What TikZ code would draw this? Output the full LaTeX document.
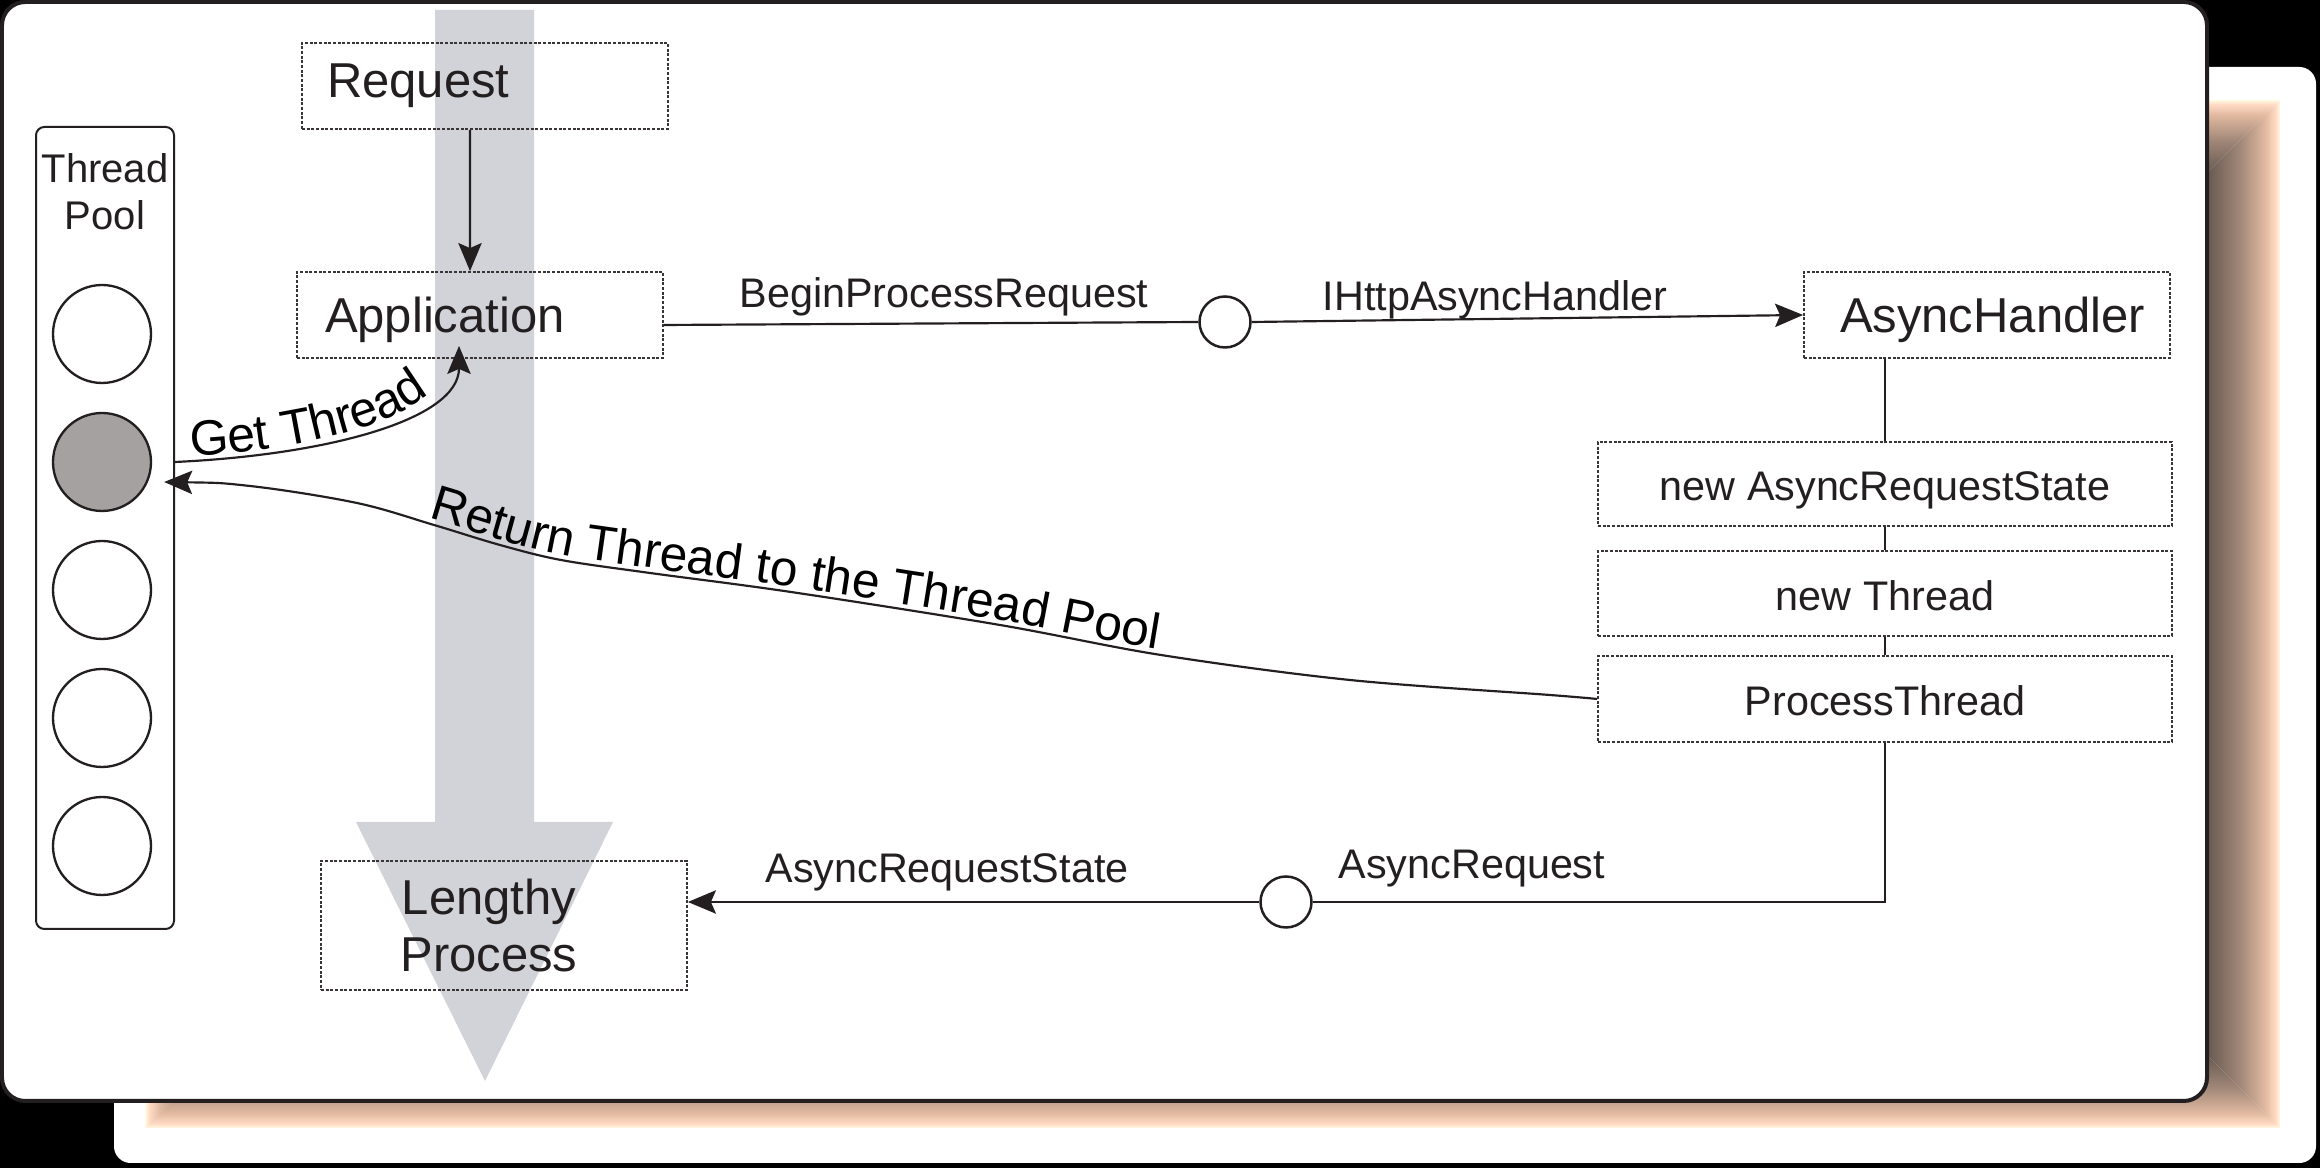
\documentclass[tikz,border=0pt]{standalone}
\usepackage{fontspec}
\setmainfont{Liberation Sans}
\usetikzlibrary{arrows.meta,decorations.text}
\definecolor{ink}{RGB}{35,31,32}
\definecolor{flow}{RGB}{209,211,216}
\definecolor{poolgray}{RGB}{166,161,161}
\definecolor{shA}{RGB}{100,86,78}
\definecolor{shB}{RGB}{160,135,120}
\definecolor{shC}{RGB}{225,185,160}
\definecolor{shD}{RGB}{255,218,195}
\definecolor{shE}{RGB}{255,250,228}
\pgfdeclarehorizontalshading{shIR}{100bp}{color(0bp)=(shA); color(25bp)=(shA); color(48bp)=(shB); color(65bp)=(shC); color(72bp)=(shD); color(75bp)=(shE); color(100bp)=(shE)}
\pgfdeclarehorizontalshading{shIL}{100bp}{color(0bp)=(shE); color(25bp)=(shE); color(28bp)=(shD); color(35bp)=(shC); color(52bp)=(shB); color(75bp)=(shA); color(100bp)=(shA)}
\pgfdeclareverticalshading{shIB}{100bp}{color(0bp)=(shE); color(25bp)=(shE); color(28bp)=(shD); color(35bp)=(shC); color(52bp)=(shB); color(75bp)=(shA); color(100bp)=(shA)}
\pgfdeclareverticalshading{shIT}{100bp}{color(0bp)=(shA); color(25bp)=(shA); color(48bp)=(shB); color(65bp)=(shC); color(72bp)=(shD); color(75bp)=(shE); color(100bp)=(shE)}
\newcommand\dgBig{\fontsize{14.7pt}{16.5pt}\selectfont}
\newcommand\dgSmall{\fontsize{12.4pt}{14.5pt}\selectfont}
\newcommand\dgPool{\fontsize{12pt}{14.1pt}\selectfont}
\newcommand\dgCurve{\fontsize{14.9pt}{17pt}\selectfont}
\tikzset{
  boxline/.style={draw=ink!90, line width=0.55pt, dash pattern=on 0.9pt off 0.5pt},
  lbox/.style={boxline, rectangle, minimum height=25.8pt, align=left, font=\dgBig, text=ink},
  cbox/.style={boxline, rectangle, minimum width=172.2pt, align=center, font=\dgSmall, text=ink, inner sep=0pt, text height=10.2pt, text depth=0pt},
  poolc/.style={circle, draw=ink, line width=0.7pt, fill=white, minimum size=29.4pt, inner sep=0pt},
  ifc/.style={circle, draw=ink, line width=0.75pt, fill=white, minimum size=15.3pt, inner sep=0pt},
  conn/.style={draw=ink, line width=0.65pt},
  arr/.style={-{Stealth[length=8.4pt,width=7pt,inset=1.5pt]}},
  rarr/.style={{Stealth[length=8.4pt,width=7pt,inset=1.5pt]}-},
  lbl/.style={font=\dgSmall, text=ink, inner sep=0pt},
}
\begin{document}
\begin{tikzpicture}[x=0.3pt, y=-0.3pt]
\useasboundingbox (0,0) rectangle (2320,1168);
% background and cards
\fill[black] (0,0) rectangle (2320,1168);
\fill[white, rounded corners=5pt] (114,67) rectangle (2316,1163);
\shade[shading=shIR] (2205,175) -- (2280,100) -- (2280,1128) -- (2205,1053) -- cycle;
\shade[shading=shIB] (220,1053) -- (2205,1053) -- (2280,1128) -- (145,1128) -- cycle;
\shade[shading=shIL] (145,100) -- (220,175) -- (220,1053) -- (145,1128) -- cycle;
\shade[shading=shIT] (145,100) -- (2280,100) -- (2205,175) -- (220,175) -- cycle;
\draw[line width=1.2pt, draw=ink, fill=white, rounded corners=7pt] (2,2) rectangle (2207,1101);
% big flow arrow
\fill[flow] (435,10) -- (534,10) -- (534,822) -- (613,822) -- (485,1081) -- (356,822) -- (435,822) -- cycle;
% thread pool
\node[draw=ink, line width=0.6pt, rounded corners=2.5pt, minimum width=41.4pt, minimum height=240.6pt] (tp) at (105,528) {};
\node[font=\dgPool, text=ink, align=center, inner sep=0pt] (tpl) at (105,192) {Thread\\Pool};
\node[poolc] (p1) at (102,334) {};
\node[poolc, fill=poolgray] (p2) at (102,462) {};
\node[poolc] (p3) at (102,590) {};
\node[poolc] (p4) at (102,718) {};
\node[poolc] (p5) at (102,846) {};
% boxes
\node[lbox, text width=94.8pt, inner xsep=7.5pt] (req) at (485,86) {Request};
\node[lbox, text width=93pt, inner xsep=8.4pt, text height=10.8pt, text depth=0pt] (app) at (480,315) {Application};
\node[lbox, text width=88.2pt, inner xsep=10.8pt, text height=10.8pt, text depth=0pt] (ah) at (1987,315) {AsyncHandler};
\node[cbox, minimum height=25.2pt] (nars) at (1885,484) {new AsyncRequestState};
\node[cbox, minimum height=25.5pt] (nt) at (1885,593.5) {new Thread};
\node[cbox, minimum height=25.8pt] (pt) at (1885,699) {ProcessThread};
\node[boxline, rectangle, minimum width=109.8pt, minimum height=38.7pt, align=center, font=\dgBig, text=ink, inner sep=0pt] (lp) at (504,925.5) {\hspace*{-9pt}Lengthy\\[0.5pt]\hspace*{-9pt}Process};
% interface circles
\node[ifc] (c1) at (1225,322) {};
\node[ifc] (c2) at (1286,902) {};
% connectors
\draw[conn, arr] ([xshift=-4.5pt]req.south) -- ([xshift=-3pt]app.north);
\draw[conn] ([yshift=-3pt]app.east) -- (c1.west);
\draw[conn, arr] (c1.east) -- (ah.west);
\draw[conn] (nars.north |- ah.south) -- (nars.north);
\draw[conn] (nars.south) -- (nt.north);
\draw[conn] (nt.south) -- (pt.north);
\draw[conn] (pt.south) |- (c2.east);
\draw[conn, arr] (c2.west) -- (lp.east |- c2.west);
% labels
\node[lbl, anchor=base] (lbpr) at (944,308) {BeginProcessRequest};
\node[lbl, anchor=base] (liah) at (1495,311) {IHttpAsyncHandler};
\node[lbl, anchor=base] (lars) at (947,883) {AsyncRequestState};
\node[lbl, anchor=base west] (lar) at (1338,879) {AsyncRequest};
% curved connectors
\coordinate (gtStart) at (tp.east |- p2);
\coordinate (gtEnd) at ([xshift=-6.3pt, yshift=3.9pt]app.south);
\draw[conn, arr, postaction={decorate, decoration={text along path, text={|\dgCurve|Get Thread}, raise=1.5pt, text align={left indent=5pt}}}]
  (gtStart) .. controls (326,455) and (459,420) .. (gtEnd);
\coordinate (rtTip) at ([xshift=3.6pt, yshift=-6pt]p2.east);
\draw[conn, rarr, postaction={decorate, decoration={text along path, text={|\dgCurve|Return Thread to the Thread Pool}, raise=1.5pt, text align={left indent=80pt}}}]
  plot[smooth, tension=0.55] coordinates {(rtTip) (250,486) (357,503) (434,525) (500,545) (561,560) (650,573) (791,592) (1000,625) (1161,655) (1350,680) (1550,695) (pt.west)};
\end{tikzpicture}
\end{document}
